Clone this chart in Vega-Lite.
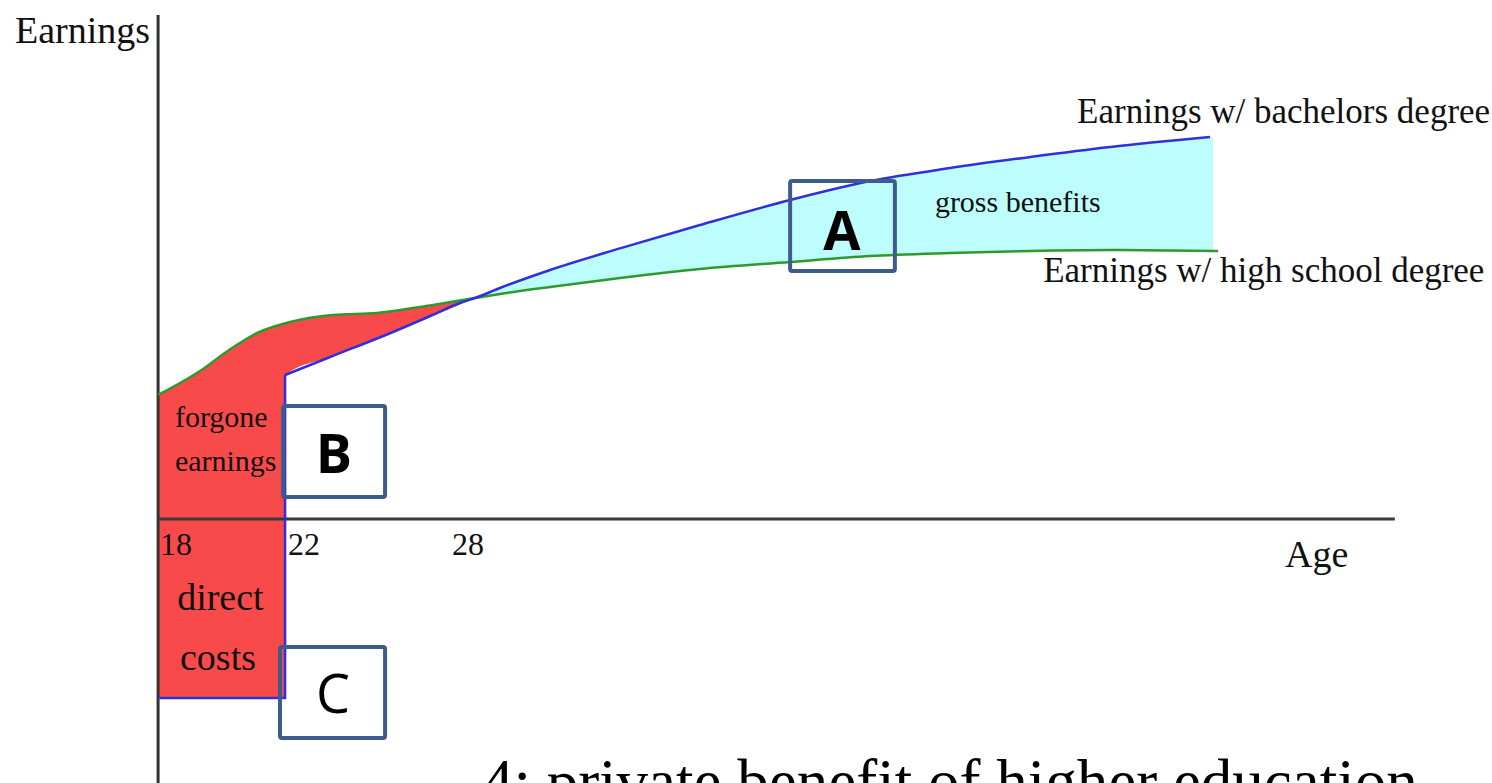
{
  "$schema": "https://vega.github.io/schema/vega-lite/v6.json",
  "width": 1492,
  "height": 783,
  "autosize": "none",
  "padding": 0,
  "background": "white",
  "config": {"view": {"stroke": null}},
  "datasets": {
    "red": [
      {"age": 17.98, "top": 20.67, "bottom": -29.83},
      {"age": 19.30, "top": 24.67, "bottom": -29.83},
      {"age": 20.25, "top": 28.3, "bottom": -29.83},
      {"age": 21.10, "top": 31.0, "bottom": -29.83},
      {"age": 21.98, "top": 32.6, "bottom": -29.83},
      {"age": 21.99, "top": 32.62, "bottom": 24.0},
      {"age": 23.49, "top": 34.0, "bottom": 27.17},
      {"age": 24.88, "top": 34.33, "bottom": 30.17},
      {"age": 26.64, "top": 35.67, "bottom": 33.83},
      {"age": 27.96, "top": 36.83, "bottom": 36.83}
    ],
    "cyan": [
      {"age": 27.96, "top": 36.83, "bottom": 36.83},
      {"age": 28.75, "top": 38.5, "bottom": 37.5},
      {"age": 30.33, "top": 41.5, "bottom": 38.67},
      {"age": 32.53, "top": 45.1, "bottom": 40.17},
      {"age": 35.05, "top": 49.0, "bottom": 41.67},
      {"age": 37.89, "top": 53.17, "bottom": 42.83},
      {"age": 40.41, "top": 56.33, "bottom": 43.83},
      {"age": 42.93, "top": 58.5, "bottom": 44.33},
      {"age": 45.45, "top": 60.33, "bottom": 44.67},
      {"age": 47.97, "top": 62.0, "bottom": 44.83},
      {"age": 51.21, "top": 63.58, "bottom": 44.67}
    ],
    "green": [
      {"i": 1, "age": 17.98, "earn": 20.67},
      {"i": 2, "age": 19.30, "earn": 24.67},
      {"i": 3, "age": 20.25, "earn": 28.3},
      {"i": 4, "age": 21.10, "earn": 31.0},
      {"i": 5, "age": 22.14, "earn": 32.83},
      {"i": 6, "age": 23.49, "earn": 34.0},
      {"i": 7, "age": 24.88, "earn": 34.33},
      {"i": 8, "age": 26.64, "earn": 35.67},
      {"i": 9, "age": 27.96, "earn": 36.83},
      {"i": 10, "age": 28.75, "earn": 37.5},
      {"i": 11, "age": 30.33, "earn": 38.67},
      {"i": 12, "age": 32.53, "earn": 40.17},
      {"i": 13, "age": 35.05, "earn": 41.67},
      {"i": 14, "age": 37.89, "earn": 42.83},
      {"i": 15, "age": 40.41, "earn": 43.83},
      {"i": 16, "age": 42.93, "earn": 44.33},
      {"i": 17, "age": 45.45, "earn": 44.67},
      {"i": 18, "age": 47.97, "earn": 44.83},
      {"i": 19, "age": 51.37, "earn": 44.67}
    ],
    "blueStep": [
      {"i": 1, "age": 17.98, "earn": -29.83},
      {"i": 2, "age": 21.98, "earn": -29.83},
      {"i": 3, "age": 21.98, "earn": 24.0}
    ],
    "blue": [
      {"i": 3, "age": 21.98, "earn": 24.0},
      {"i": 4, "age": 23.40, "earn": 27.0},
      {"i": 5, "age": 25.38, "earn": 31.17},
      {"i": 6, "age": 26.55, "earn": 33.83},
      {"i": 7, "age": 27.49, "earn": 36.0},
      {"i": 8, "age": 27.96, "earn": 36.83},
      {"i": 9, "age": 28.75, "earn": 38.5},
      {"i": 10, "age": 30.33, "earn": 41.5},
      {"i": 11, "age": 32.53, "earn": 45.1},
      {"i": 12, "age": 35.05, "earn": 49.0},
      {"i": 13, "age": 37.89, "earn": 53.17},
      {"i": 14, "age": 40.41, "earn": 56.33},
      {"i": 15, "age": 42.93, "earn": 58.5},
      {"i": 16, "age": 45.45, "earn": 60.33},
      {"i": 17, "age": 47.97, "earn": 62.0},
      {"i": 18, "age": 51.12, "earn": 63.67}
    ],
    "boxes": [
      {"box": "A", "x1": 37.89, "x2": 41.19, "y1": 56.33, "y2": 41.33},
      {"box": "B", "x1": 21.92, "x2": 25.13, "y1": 18.83, "y2": 3.67},
      {"box": "C", "x1": 21.82, "x2": 25.13, "y1": -21.33, "y2": -36.5}
    ]
  },
  "encoding": {
    "x": {"type": "quantitative", "scale": {"domain": [13, 60], "nice": false, "zero": false}, "axis": null},
    "y": {"type": "quantitative", "scale": {"domain": [-44, 86.5], "nice": false, "zero": false}, "axis": null}
  },
  "layer": [
    {
      "data": {"name": "red"},
      "mark": {"type": "area", "color": "#F84A4A", "opacity": 1, "interpolate": "monotone"},
      "encoding": {"x": {"field": "age"}, "y": {"field": "top"}, "y2": {"field": "bottom"}}
    },
    {
      "data": {"name": "cyan"},
      "mark": {"type": "area", "color": "#BDFDFD", "opacity": 1, "interpolate": "monotone"},
      "encoding": {"x": {"field": "age"}, "y": {"field": "top"}, "y2": {"field": "bottom"}}
    },
    {
      "data": {"values": [{"x": 17.98, "y1": 84, "y2": -44}]},
      "mark": {"type": "rule", "color": "#333333", "strokeWidth": 3},
      "encoding": {"x": {"field": "x"}, "y": {"field": "y1"}, "y2": {"field": "y2"}}
    },
    {
      "data": {"values": [{"y": 0, "x1": 17.98, "x2": 56.94}]},
      "mark": {"type": "rule", "color": "#3A3A3A", "strokeWidth": 3},
      "encoding": {"y": {"field": "y"}, "x": {"field": "x1"}, "x2": {"field": "x2"}}
    },
    {
      "data": {"name": "green"},
      "mark": {"type": "line", "color": "#2E9A2E", "strokeWidth": 2.5, "interpolate": "monotone"},
      "encoding": {"x": {"field": "age"}, "y": {"field": "earn"}, "order": {"field": "i"}}
    },
    {
      "data": {"name": "blueStep"},
      "mark": {"type": "line", "color": "#3030D8", "strokeWidth": 2.5},
      "encoding": {"x": {"field": "age"}, "y": {"field": "earn"}, "order": {"field": "i"}}
    },
    {
      "data": {"name": "blue"},
      "mark": {"type": "line", "color": "#3030D8", "strokeWidth": 2.5, "interpolate": "monotone"},
      "encoding": {"x": {"field": "age"}, "y": {"field": "earn"}, "order": {"field": "i"}}
    },
    {
      "data": {"name": "boxes"},
      "mark": {"type": "rect", "fill": null, "fillOpacity": 0, "stroke": "#3E5C8A", "strokeWidth": 4, "cornerRadius": 2},
      "encoding": {"x": {"field": "x1"}, "x2": {"field": "x2"}, "y": {"field": "y1"}, "y2": {"field": "y2"}}
    },
    {
      "data": {"values": [
        {"x": 46.93, "y": 66.0, "t": "Earnings w/ bachelors degree"},
        {"x": 45.86, "y": 39.5, "t": "Earnings w/ high school degree"}
      ]},
      "mark": {"type": "text", "font": "Liberation Serif", "fontSize": 35, "align": "left", "baseline": "alphabetic", "color": "#111111"},
      "encoding": {"x": {"field": "x"}, "y": {"field": "y"}, "text": {"field": "t"}}
    },
    {
      "data": {"values": [
        {"x": 42.45, "y": 51.17, "t": "gross benefits"},
        {"x": 18.51, "y": 15.33, "t": "forgone"},
        {"x": 18.51, "y": 8.0, "t": "earnings"}
      ]},
      "mark": {"type": "text", "font": "Liberation Serif", "fontSize": 30, "align": "left", "baseline": "alphabetic", "color": "#111111"},
      "encoding": {"x": {"field": "x"}, "y": {"field": "y"}, "text": {"field": "t"}}
    },
    {
      "data": {"values": [
        {"x": 13.47, "y": 79.33, "t": "Earnings"},
        {"x": 53.48, "y": -8.0, "t": "Age"},
        {"x": 18.58, "y": -15.17, "t": "direct"},
        {"x": 18.67, "y": -25.17, "t": "costs"}
      ]},
      "mark": {"type": "text", "font": "Liberation Serif", "fontSize": 38, "align": "left", "baseline": "alphabetic", "color": "#111111"},
      "encoding": {"x": {"field": "x"}, "y": {"field": "y"}, "text": {"field": "t"}}
    },
    {
      "data": {"values": [
        {"x": 18.04, "y": -6.0, "t": "18"},
        {"x": 22.07, "y": -6.0, "t": "22"},
        {"x": 27.24, "y": -6.0, "t": "28"}
      ]},
      "mark": {"type": "text", "font": "Liberation Serif", "fontSize": 32, "align": "left", "baseline": "alphabetic", "color": "#111111"},
      "encoding": {"x": {"field": "x"}, "y": {"field": "y"}, "text": {"field": "t"}}
    },
    {
      "data": {"values": [
        {"x": 39.52, "y": 44.83, "t": "A"},
        {"x": 23.52, "y": 7.67, "t": "B"}
      ]},
      "mark": {"type": "text", "font": "Open Sans", "fontWeight": "bold", "fontSize": 54, "align": "center", "baseline": "alphabetic", "color": "#000000"},
      "encoding": {"x": {"field": "x"}, "y": {"field": "y"}, "text": {"field": "t"}}
    },
    {
      "data": {"values": [
        {"x": 23.49, "y": -32.33, "t": "C"}
      ]},
      "mark": {"type": "text", "font": "Open Sans", "fontSize": 54, "align": "center", "baseline": "alphabetic", "color": "#000000"},
      "encoding": {"x": {"field": "x"}, "y": {"field": "y"}, "text": {"field": "t"}}
    },
    {
      "data": {"values": [
        {"x": 28.18, "y": -47.4, "t": "4: private benefit of higher education"}
      ]},
      "mark": {"type": "text", "font": "Liberation Serif", "fontSize": 63, "align": "left", "baseline": "alphabetic", "color": "#000000"},
      "encoding": {"x": {"field": "x"}, "y": {"field": "y"}, "text": {"field": "t"}}
    }
  ]
}
